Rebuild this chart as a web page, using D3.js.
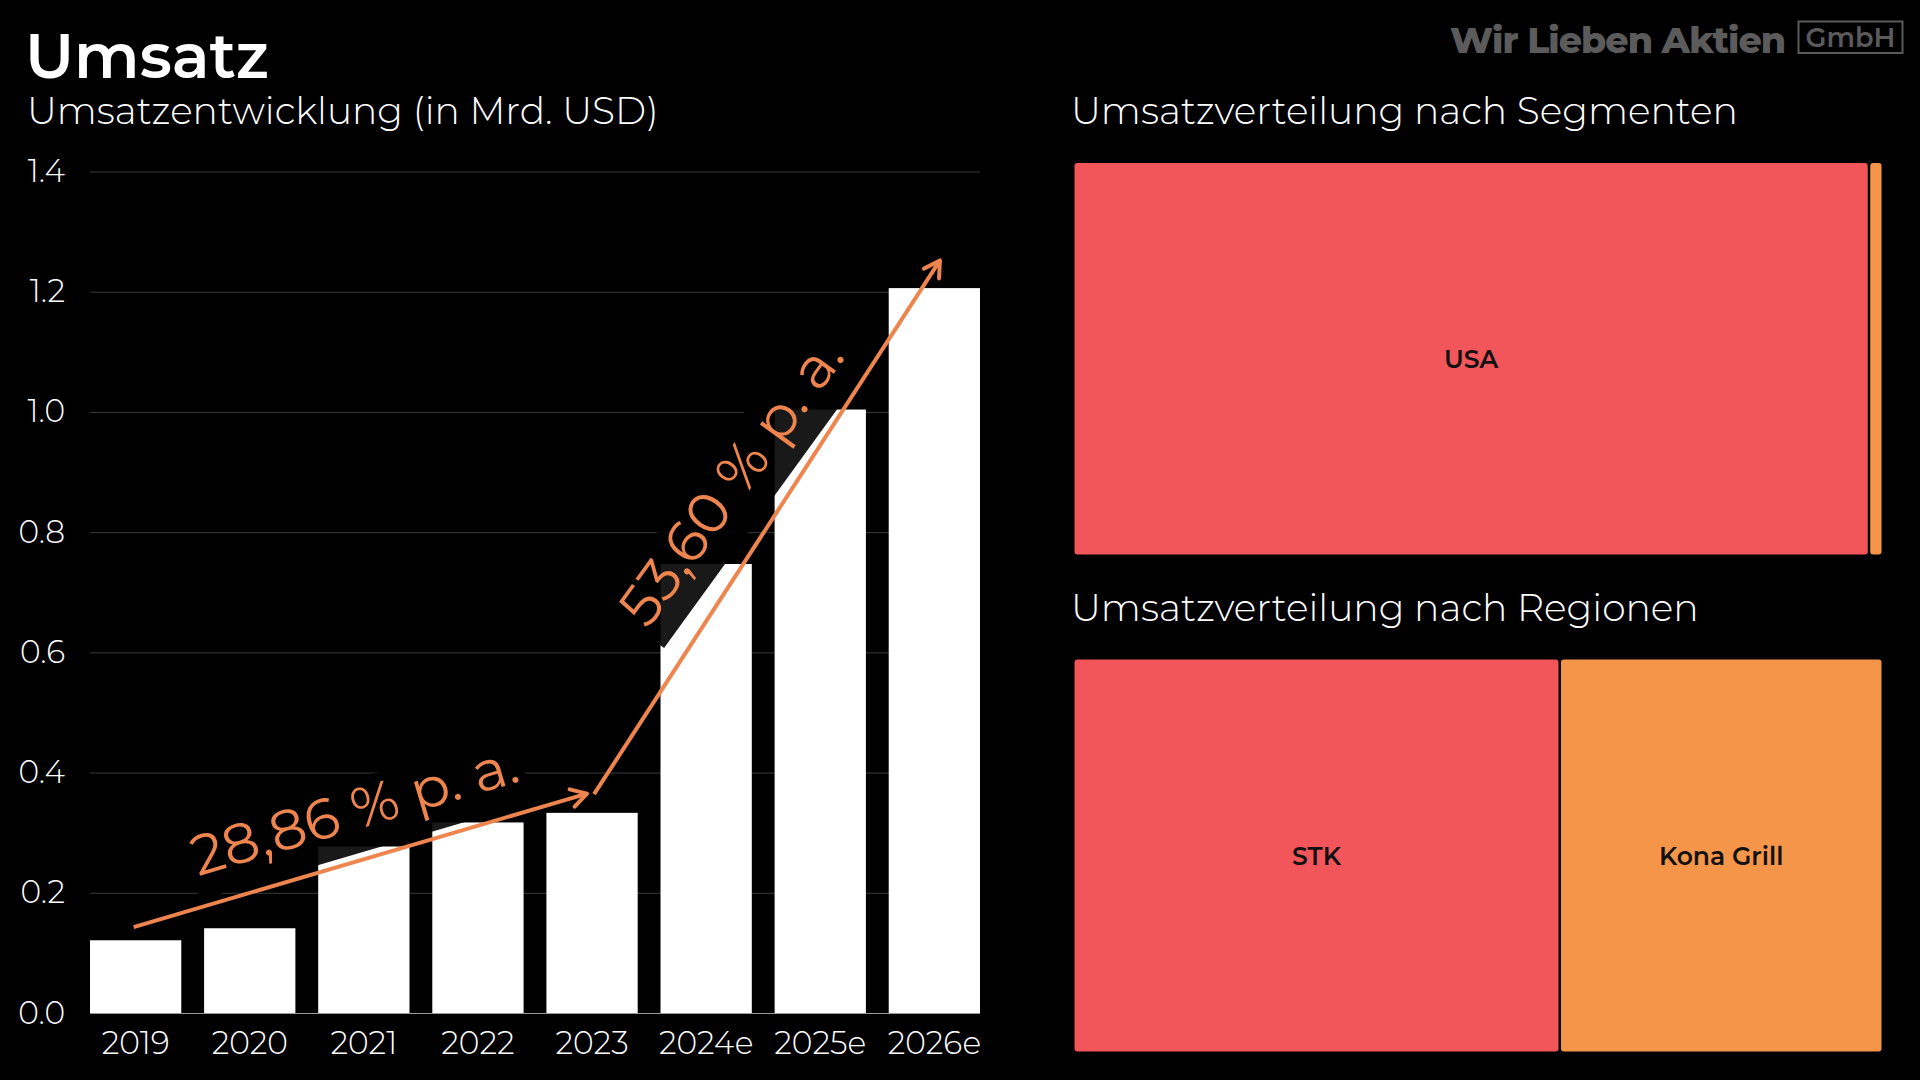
<!DOCTYPE html>
<html><head><meta charset="utf-8">
<script src="https://cdn.jsdelivr.net/npm/d3@7"></script>
<style>
html,body{margin:0;padding:0;background:#000;}
svg{display:block;}
</style></head>
<body>
<svg id="chart" width="1920" height="1080"></svg>
<script>
// ---------------- data ----------------
const years = ["2019","2020","2021","2022","2023","2024e","2025e","2026e"];
const revenue = [0.121, 0.141, 0.277, 0.317, 0.333, 0.747, 1.004, 1.206];
const yTicks = [0.0, 0.2, 0.4, 0.6, 0.8, 1.0, 1.2, 1.4];

const segmentNames = ["USA", "International"];
const segmentValues = [98.3, 1.7];
const regionNames = ["STK", "Kona Grill"];
const regionValues = [60.1, 39.9];

const cagrLabels = ["28,86 % p. a.", "53,60 % p. a."];
const cagrFromYear = ["2019", "2023"];
const cagrToYear = ["2023", "2026e"];
const cagrFromValue = [0.143, 0.364];
const cagrToValue = [0.365, 1.252];

// ---------------- layout / style ----------------
const FONT = "Montserrat, Inter, 'Open Sans', sans-serif";
const ORANGE = "#EE844E";
const cellColors = ["#F2555A", "#F5954A"];
const plot = {left: 90, right: 980, top: 171.5, bottom: 1013};
const arrowDx = [[-2, -5], [2, 5.6]];          // pixel nudges of arrow ends
const labelPlace = [{along: 76, perp: 30.5, adj: 0}, {along: 167, perp: 44, adj: 3}];

const svg = d3.select("#chart");
svg.append("rect").attr("width", 1920).attr("height", 1080).attr("fill", "#000");

function fit(sel, target) {
  const w = sel.node().getComputedTextLength();
  const fs = parseFloat(sel.attr("font-size"));
  sel.attr("font-size", fs * target / w);
  return fs * target / w;
}

// ---------------- titles ----------------
const title = svg.append("text").attr("x", 25).attr("y", 78)
  .attr("font-family", FONT).attr("font-weight", 600).attr("font-size", 64)
  .attr("fill", "#fff").text("Umsatz");
fit(title, 244);

const sub = svg.append("text").attr("x", 27).attr("y", 124)
  .attr("font-family", FONT).attr("font-weight", 300).attr("font-size", 36)
  .attr("fill", "#fff").text("Umsatzentwicklung (in Mrd. USD)");
fit(sub, 632);

const segTitle = svg.append("text").attr("x", 1071).attr("y", 124)
  .attr("font-family", FONT).attr("font-weight", 300).attr("font-size", 36)
  .attr("fill", "#fff").text("Umsatzverteilung nach Segmenten");
fit(segTitle, 667);

const regTitle = svg.append("text").attr("x", 1071).attr("y", 621)
  .attr("font-family", FONT).attr("font-weight", 300).attr("font-size", 36)
  .attr("fill", "#fff").text("Umsatzverteilung nach Regionen");
fit(regTitle, 628);

// logo
const logo = svg.append("text").attr("x", 1450).attr("y", 52.5)
  .attr("font-family", FONT).attr("font-weight", 800).attr("font-size", 38)
  .attr("letter-spacing", -1)
  .attr("fill", "#5b5b5b").text("Wir Lieben Aktien");
fit(logo, 336);
svg.append("rect").attr("x", 1798.5).attr("y", 21.5).attr("width", 104).attr("height", 31.5)
  .attr("fill", "none").attr("stroke", "#5b5b5b").attr("stroke-width", 2);
const gmbh = svg.append("text").attr("x", 1850.5).attr("y", 47)
  .attr("text-anchor", "middle")
  .attr("font-family", FONT).attr("font-weight", 600).attr("font-size", 26)
  .attr("fill", "#5b5b5b").text("GmbH");
fit(gmbh, 90);

// ---------------- bar chart ----------------
const x = d3.scaleBand().domain(years).range([plot.left, plot.right])
  .paddingInner(0.2).paddingOuter(0);
const y = d3.scaleLinear().domain([0, 1.4]).range([plot.bottom, plot.top]);

const yAxis = svg.append("g").attr("transform", `translate(${plot.left},0)`)
  .call(d3.axisLeft(y).tickValues(yTicks).tickFormat(d3.format(".1f"))
    .tickSize(-(plot.right - plot.left)).tickPadding(25));
yAxis.select(".domain").remove();
yAxis.selectAll(".tick line").attr("stroke", "#3a3a3a").attr("stroke-width", 1);
yAxis.selectAll(".tick text").attr("fill", "#fff").attr("font-family", FONT)
  .attr("font-weight", 300).attr("font-size", 29);

svg.append("g").selectAll("rect").data(years).join("rect")
  .attr("x", d => x(d)).attr("width", x.bandwidth())
  .attr("y", (d, i) => y(revenue[i]))
  .attr("height", (d, i) => y(0) - y(revenue[i]))
  .attr("fill", "#fff");

svg.append("line").attr("x1", plot.left).attr("x2", plot.right)
  .attr("y1", y(0) + 0.5).attr("y2", y(0) + 0.5)
  .attr("stroke", "#9a9a9a").attr("stroke-width", 1);

const xAxis = svg.append("g").attr("transform", `translate(0,${plot.bottom})`)
  .call(d3.axisBottom(x).tickSize(0).tickPadding(18.5));
xAxis.select(".domain").remove();
xAxis.selectAll(".tick text").attr("fill", "#fff").attr("font-family", FONT)
  .attr("font-weight", 300).attr("font-size", 29);
{
  const first = xAxis.select(".tick text");
  const w = first.node().getComputedTextLength();
  const fs = 29 * 68 / w;
  xAxis.selectAll(".tick text").attr("font-size", fs);
  yAxis.selectAll(".tick text").attr("font-size", fs);
}

// ---------------- CAGR annotations ----------------
const gBox = svg.append("g"), gArrow = svg.append("g"), gText = svg.append("g");
cagrLabels.forEach((lab, i) => {
  const x0 = x(cagrFromYear[i]) + x.bandwidth() / 2 + arrowDx[i][0];
  const x1 = x(cagrToYear[i]) + x.bandwidth() / 2 + arrowDx[i][1];
  const y0 = y(cagrFromValue[i]), y1 = y(cagrToValue[i]);
  const len = Math.hypot(x1 - x0, y1 - y0);
  const dx = (x1 - x0) / len, dy = (y1 - y0) / len;
  const ang = Math.atan2(dy, dx) * 180 / Math.PI;

  gArrow.append("line").attr("x1", x0).attr("y1", y0).attr("x2", x1).attr("y2", y1)
    .attr("stroke", ORANGE).attr("stroke-width", 4);
  const hl = 18, ha = Math.PI / 6;
  const base = Math.atan2(-dy, -dx);
  const p1 = [x1 + hl * Math.cos(base + ha), y1 + hl * Math.sin(base + ha)];
  const p2 = [x1 + hl * Math.cos(base - ha), y1 + hl * Math.sin(base - ha)];
  gArrow.append("path").attr("d", `M${p1}L${x1},${y1}L${p2}`)
    .attr("fill", "none").attr("stroke", ORANGE).attr("stroke-width", 4)
    .attr("stroke-linecap", "round").attr("stroke-linejoin", "round");

  const pl = labelPlace[i];
  const tx = x0 + pl.along * dx + pl.perp * dy;
  const ty = y0 + pl.along * dy - pl.perp * dx;
  const g = gText.append("g").attr("transform", `translate(${tx},${ty}) rotate(${ang + pl.adj})`);
  const t = g.append("text").attr("x", 0).attr("y", 0)
    .attr("font-family", FONT).attr("font-weight", 400).attr("font-size", 54)
    .attr("fill", ORANGE).text(lab);
  const fs = fit(t, 338);
  const w = t.node().getComputedTextLength();
  gBox.append("rect")
    .attr("transform", `translate(${tx},${ty}) rotate(${ang + pl.adj})`)
    .attr("x", -5).attr("y", -0.87 * fs).attr("width", w + 10).attr("height", 1.28 * fs)
    .attr("fill", "rgba(0,0,0,0.9)");
});

// ---------------- treemaps ----------------
function treemap(names, values, x0, y0, x1, y1) {
  const root = d3.hierarchy({children: names.map((n, i) => ({name: n, value: values[i]}))})
    .sum(d => d.value || 0);
  d3.treemap().tile(d3.treemapSquarify).size([x1 - x0, y1 - y0]).paddingInner(2.5)(root);
  const g = svg.append("g").attr("transform", `translate(${x0},${y0})`);
  const leaves = root.leaves();
  g.selectAll("rect").data(leaves).join("rect")
    .attr("x", d => d.x0).attr("y", d => d.y0)
    .attr("width", d => d.x1 - d.x0).attr("height", d => d.y1 - d.y0)
    .attr("rx", 3).attr("ry", 3)
    .attr("fill", (d, i) => cellColors[i % cellColors.length]);
  g.selectAll("text").data(leaves.filter(d => d.x1 - d.x0 > 80)).join("text")
    .attr("x", d => (d.x0 + d.x1) / 2).attr("y", d => (d.y0 + d.y1) / 2)
    .attr("text-anchor", "middle").attr("dominant-baseline", "central")
    .attr("font-family", FONT).attr("font-weight", 600).attr("font-size", 25)
    .attr("fill", "#111").text(d => d.data.name);
}
treemap(segmentNames, segmentValues, 1074.5, 163, 1881.5, 554.5);
treemap(regionNames, regionValues, 1074.5, 659.5, 1881.5, 1051.5);
</script>
</body></html>
